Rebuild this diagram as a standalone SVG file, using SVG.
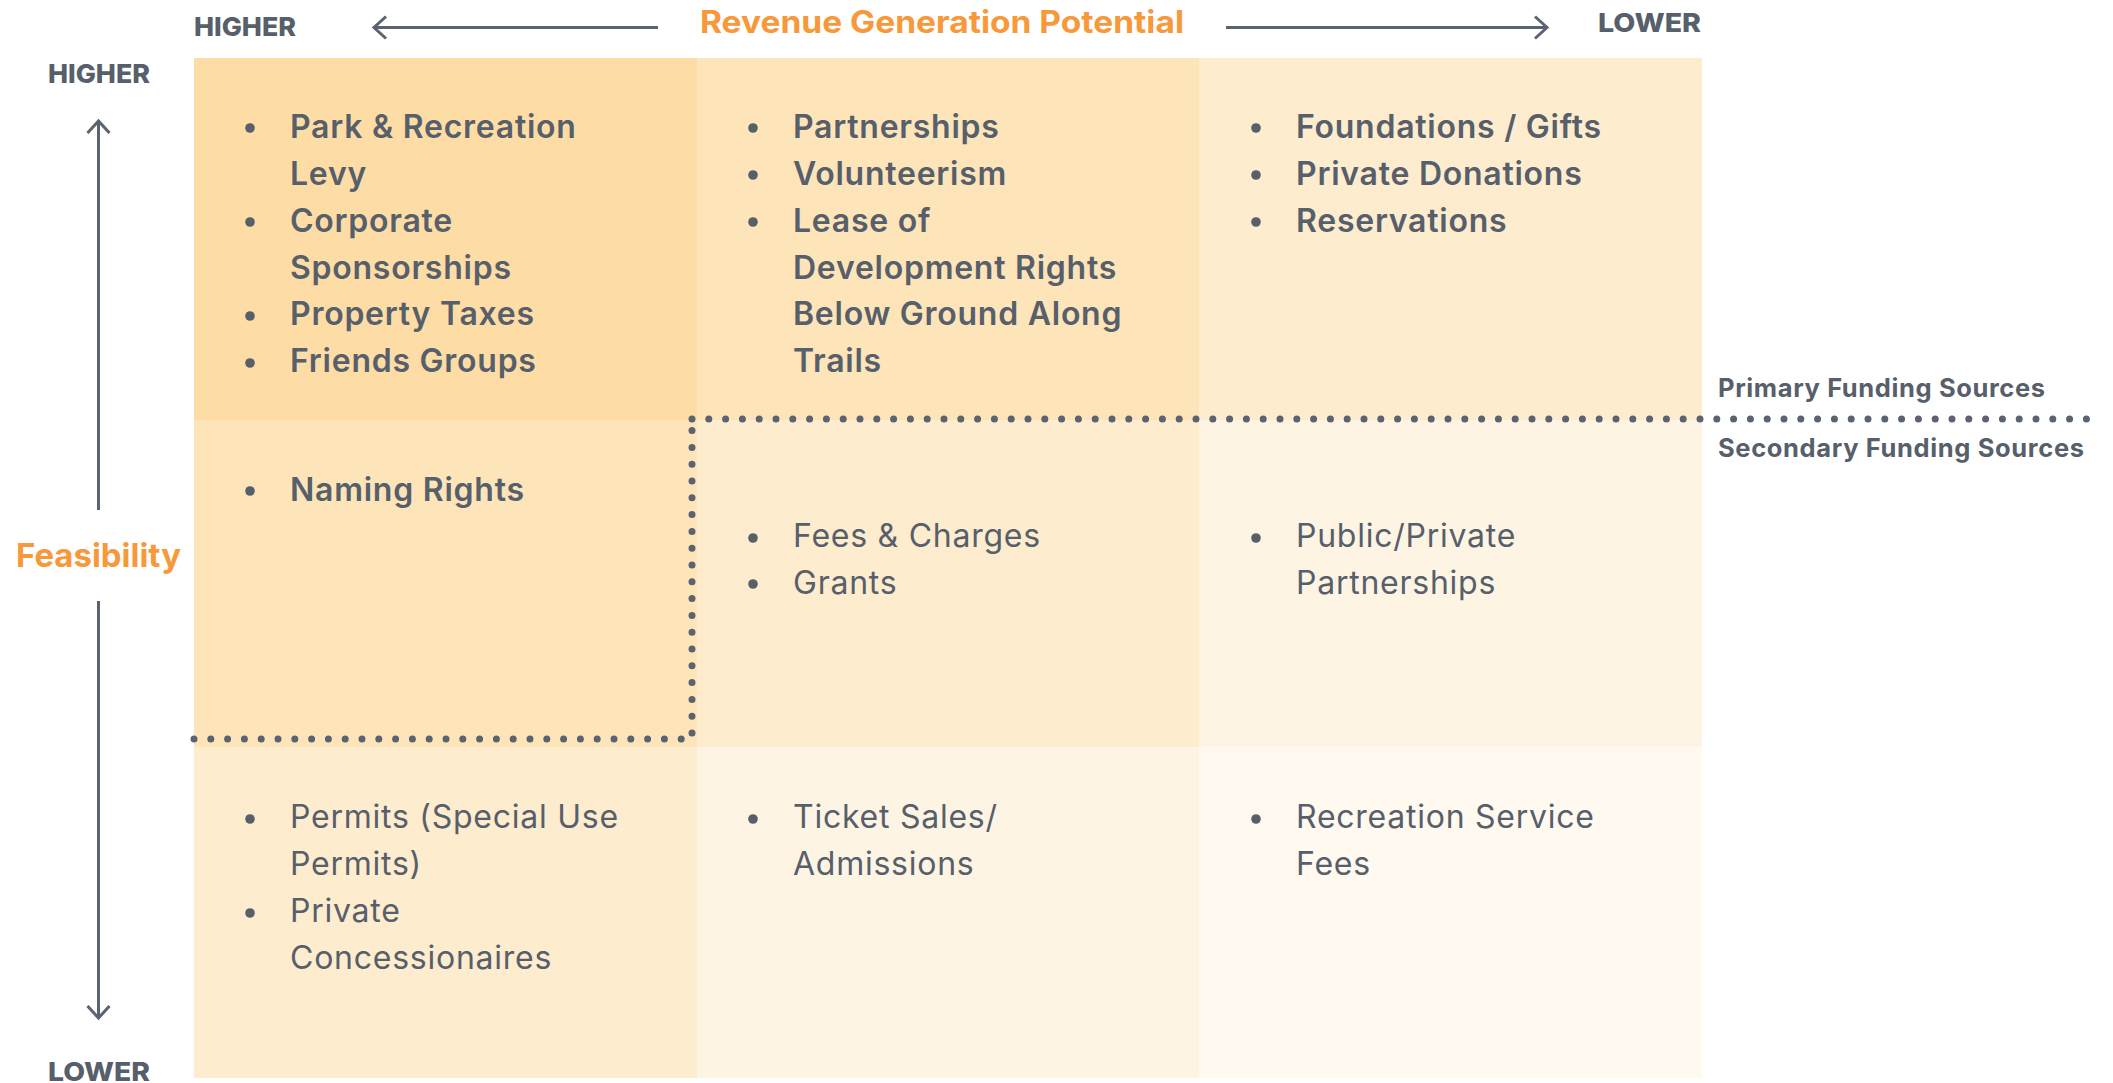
<svg xmlns="http://www.w3.org/2000/svg" width="2113" height="1083" viewBox="0 0 2113 1083">
<style>
.t{font-family:Inter,"Noto Sans","Liberation Sans",sans-serif;fill:#575f6b;font-size:32px;letter-spacing:0.75px}
.b{font-weight:600}
.r{font-weight:400}
.ax{font-family:Inter,"Liberation Sans",sans-serif;font-weight:800;font-size:26px;fill:#575f6b}
.ttl{font-family:Inter,"Liberation Sans",sans-serif;font-weight:700;fill:#f7983a}
.fs{font-family:Inter,"Liberation Sans",sans-serif;font-weight:700;font-size:25.5px;fill:#575f6b}
.bul{fill:#575f6b}
.arr{stroke:#5b6370;stroke-width:3;fill:none}
.dot{stroke:#5b6370;stroke-width:7;stroke-linecap:round;stroke-dasharray:0 16.8;fill:none}
</style>
<defs>
<marker id="head" markerUnits="userSpaceOnUse" markerWidth="30" markerHeight="30" viewBox="-15 -15 30 30" refX="0" refY="0" orient="auto">
<path d="M-12,-11 L0,0 L-12,11" fill="none" stroke="#5b6370" stroke-width="3"/>
</marker>
</defs>
<rect width="2113" height="1083" fill="#ffffff"/>

<g id="cell-higher-higher">
<rect x="194" y="58" width="503" height="362" fill="#fedca5"/>
<circle class="bul" cx="250" cy="128" r="4.8"/>
<circle class="bul" cx="250" cy="222" r="4.8"/>
<circle class="bul" cx="250" cy="316" r="4.8"/>
<circle class="bul" cx="250" cy="363" r="4.8"/>
<text class="t b" x="290" y="138">Park &amp; Recreation</text>
<text class="t b" x="290" y="185">Levy</text>
<text class="t b" x="290" y="232">Corporate</text>
<text class="t b" x="290" y="279">Sponsorships</text>
<text class="t b" x="290" y="325">Property Taxes</text>
<text class="t b" x="290" y="372">Friends Groups</text>
</g>

<g id="cell-mid-higher">
<rect x="697" y="58" width="502" height="362" fill="#fde4b9"/>
<circle class="bul" cx="753" cy="128" r="4.8"/>
<circle class="bul" cx="753" cy="175" r="4.8"/>
<circle class="bul" cx="753" cy="222" r="4.8"/>
<text class="t b" x="793" y="138">Partnerships</text>
<text class="t b" x="793" y="185">Volunteerism</text>
<text class="t b" x="793" y="232">Lease of</text>
<text class="t b" x="793" y="279">Development Rights</text>
<text class="t b" x="793" y="325">Below Ground Along</text>
<text class="t b" x="793" y="372">Trails</text>
</g>

<g id="cell-lower-higher">
<rect x="1199" y="58" width="503" height="362" fill="#feecce"/>
<circle class="bul" cx="1256" cy="128" r="4.8"/>
<circle class="bul" cx="1256" cy="175" r="4.8"/>
<circle class="bul" cx="1256" cy="222" r="4.8"/>
<text class="t b" x="1296" y="138">Foundations / Gifts</text>
<text class="t b" x="1296" y="185">Private Donations</text>
<text class="t b" x="1296" y="232">Reservations</text>
</g>

<g id="cell-higher-mid">
<rect x="194" y="420" width="503" height="327" fill="#fde4b9"/>
<circle class="bul" cx="250" cy="491" r="4.8"/>
<text class="t b" x="290" y="501">Naming Rights</text>
</g>

<g id="cell-mid-mid">
<rect x="697" y="420" width="502" height="327" fill="#feecce"/>
<circle class="bul" cx="753" cy="538" r="4.8"/>
<circle class="bul" cx="753" cy="584" r="4.8"/>
<text class="t r" x="793" y="547">Fees &amp; Charges</text>
<text class="t r" x="793" y="594">Grants</text>
</g>

<g id="cell-lower-mid">
<rect x="1199" y="420" width="503" height="327" fill="#fef4e3"/>
<circle class="bul" cx="1256" cy="538" r="4.8"/>
<text class="t r" x="1296" y="547">Public/Private</text>
<text class="t r" x="1296" y="594">Partnerships</text>
</g>

<g id="cell-higher-lower">
<rect x="194" y="747" width="503" height="331" fill="#feecce"/>
<circle class="bul" cx="250" cy="819" r="4.8"/>
<circle class="bul" cx="250" cy="913" r="4.8"/>
<text class="t r" x="290" y="828">Permits (Special Use</text>
<text class="t r" x="290" y="875">Permits)</text>
<text class="t r" x="290" y="922">Private</text>
<text class="t r" x="290" y="969">Concessionaires</text>
</g>

<g id="cell-mid-lower">
<rect x="697" y="747" width="502" height="331" fill="#fef4e3"/>
<circle class="bul" cx="753" cy="819" r="4.8"/>
<text class="t r" x="793" y="828">Ticket Sales/</text>
<text class="t r" x="793" y="875">Admissions</text>
</g>

<g id="cell-lower-lower">
<rect x="1199" y="747" width="503" height="331" fill="#fff9f0"/>
<circle class="bul" cx="1256" cy="819" r="4.8"/>
<text class="t r" x="1296" y="828">Recreation Service</text>
<text class="t r" x="1296" y="875">Fees</text>
</g>

<g id="axis-labels">
<text class="ax" x="194" y="36" textLength="102" lengthAdjust="spacingAndGlyphs">HIGHER</text>
<text class="ax" x="1598" y="32" textLength="103" lengthAdjust="spacingAndGlyphs">LOWER</text>
<text class="ax" x="48" y="83" textLength="102" lengthAdjust="spacingAndGlyphs">HIGHER</text>
<text class="ax" x="48" y="1081" textLength="102" lengthAdjust="spacingAndGlyphs">LOWER</text>
<text class="ttl" x="700" y="33" font-size="31" textLength="484" lengthAdjust="spacingAndGlyphs">Revenue Generation Potential</text>
<text class="ttl" x="16" y="567" font-size="33" textLength="165" lengthAdjust="spacingAndGlyphs">Feasibility</text>
<text class="fs" x="1718" y="397" textLength="327" lengthAdjust="spacing">Primary Funding Sources</text>
<text class="fs" x="1718" y="457" textLength="366" lengthAdjust="spacing">Secondary Funding Sources</text>
</g>

<g id="connectors">
<line class="arr" x1="658" y1="27.5" x2="374" y2="27.5" marker-end="url(#head)"/>
<line class="arr" x1="1226" y1="27.5" x2="1547" y2="27.5" marker-end="url(#head)"/>
<line class="arr" x1="98.5" y1="510" x2="98.5" y2="121" marker-end="url(#head)"/>
<line class="arr" x1="98.5" y1="601" x2="98.5" y2="1018" marker-end="url(#head)"/>
<path class="dot" d="M692,419 H2090"/>
<path class="dot" d="M194,739 H692 V419"/>
</g>
</svg>
